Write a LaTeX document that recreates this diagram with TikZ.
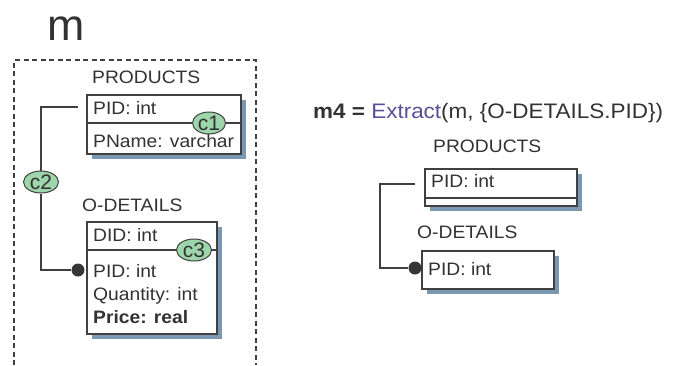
\documentclass[tikz,border=0pt]{standalone}
\usepackage{fontspec}
\setmainfont{Liberation Sans}
\usetikzlibrary{shapes.geometric}

\definecolor{shadowblue}{RGB}{122,152,178}
\definecolor{consgreen}{RGB}{158,214,172}
\definecolor{boxgray}{RGB}{64,64,64}
\definecolor{textgray}{RGB}{50,50,50}
\definecolor{opviolet}{RGB}{88,80,150}

\begin{document}
\begin{tikzpicture}[x=1pt,y=1pt,yscale=-1,xscale=1,
  attr/.style={anchor=base west, inner sep=0pt, text=textgray, xscale=1.07, font=\fontsize{18}{21}\selectfont},
  cons/.style={ellipse, draw=boxgray, fill=consgreen, line width=1pt, minimum width=35pt, minimum height=22pt, inner sep=0pt, text=textgray, font=\fontsize{21}{24}\selectfont},
  link/.style={draw=boxgray, line width=1.3pt},
  tbl/.style={draw=boxgray, line width=1.6pt, fill=white},
  shade/.style={fill=shadowblue, draw=none},
  dot/.style={circle, fill=boxgray!85!black, inner sep=0pt, minimum size=13pt}]
\useasboundingbox (0,0) rectangle (675,365);

% Model name and dashed frame
\node[attr, font=\fontsize{44}{50}\selectfont, xscale=0.95] (mname) at (47,40) {m};
\draw[boxgray, line width=1.3pt, dash pattern=on 5pt off 3.5pt] (14,365) -- (14,60) -- (256,60) -- (256,365);

%Table PRODUCTS (left)
\node[attr] (prodname) at (92,83.5) {PRODUCTS};
\fill[shade] (92,100) rectangle (246,159);
\draw[tbl] (87,95) rectangle (241,154);
\draw[boxgray, line width=1.3pt] (87,123) -- (241,123);
\node[attr] (ppid) at (93,114) {PID: int};
\node[attr] (pname) at (93,147) {PName: varchar};
\node[cons, minimum width=33pt] (c1) at (209,123) {c1};

%Table O-DETAILS (left)
\node[attr] (odname) at (82,211) {O-DETAILS};
\fill[shade] (92,227) rectangle (222,339);
\draw[tbl] (87,222) rectangle (217,334);
\draw[boxgray, line width=1.3pt] (87,250) -- (217,250);
\node[attr] (odid) at (93,241) {DID: int};
\node[attr] (opid) at (93,277) {PID: int};
\node[attr] (oqty) at (93,300) {Quantity: int};
\node[attr, font=\fontsize{18}{21}\selectfont\bfseries] (oprice) at (93,323.5) {Price: real};
\node[cons] (c3) at (194,250) {c3};

% foreign key link
\coordinate (lpid) at (78,107);
\node[dot] (ldot) at (78,270) {};
\node[cons] (c2) at (41,182) {c2};
\draw[link] (lpid) -- (lpid -| c2) -- (c2);
\draw[link] (c2) |- (ldot);

% Extract expression
\node[attr, font=\fontsize{21}{24}\selectfont] (expr) at (313,118.5)
  {\textbf{m4 =} \textcolor{opviolet}{Extract}(m, \{O-DETAILS.PID\})};

%Table PRODUCTS (right)
\node[attr] (rprodname) at (433,152) {PRODUCTS};
\fill[shade] (430,174) rectangle (582,211);
\draw[tbl] (425,169) rectangle (577,206);
\draw[boxgray, line width=1.3pt] (425,198) -- (577,198);
\node[attr] (rppid) at (431,187.5) {PID: int};

%Table O-DETAILS (right)
\node[attr] (rodname) at (417,238) {O-DETAILS};
\fill[shade] (427,256) rectangle (559,294);
\draw[tbl] (422,251) rectangle (554,289);
\node[attr] (ropid) at (428,275.5) {PID: int};

% remaining link
\coordinate (rlpid) at (415,184);
\node[dot] (rldot) at (415,268) {};
\draw[link] (rlpid) -- (380,184) |- (rldot);

\end{tikzpicture}
\end{document}
